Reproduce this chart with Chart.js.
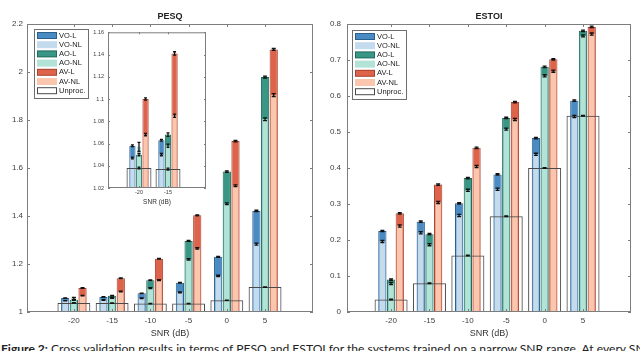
<!DOCTYPE html>
<html>
<head>
<meta charset="utf-8">
<script src="https://cdn.jsdelivr.net/npm/chart.js@4.4.1/dist/chart.umd.min.js"></script>
<style>
  html, body { margin: 0; padding: 0; background: #fff; width: 640px; height: 351px; overflow: hidden; }
  canvas { position: absolute; }
  #pesq { left: 0; top: 0; }
  #estoi { left: 320px; top: 0; }
  #inset { left: 80px; top: 25px; }
  #caption { position: absolute; left: 1px; top: 341px; font: 12.1px Lato, sans-serif; white-space: nowrap; color: #222; }
</style>
</head>
<body>
<canvas id="pesq" width="320" height="340"></canvas>
<canvas id="estoi" width="320" height="340"></canvas>
<canvas id="inset" width="135" height="185"></canvas>
<div id="caption"><b>Figure 2:</b> Cross validation results in terms of PESQ and ESTOI for the systems trained on a narrow SNR range. At every SNR</div>
<script>
// SNR categories and tick values
const snrLevels = [-20, -15, -10, -5, 0, 5];
const insetLevels = [-20, -15];
const seriesNames = ['VO-L', 'VO-NL', 'AO-L', 'AO-NL', 'AV-L', 'AV-NL', 'Unproc.'];
const pesqTicks = [1, 1.2, 1.4, 1.6, 1.8, 2, 2.2];
const insetTicks = [1.02, 1.04, 1.06, 1.08, 1.1, 1.12, 1.14, 1.16];
const estoiTicks = [0, 0.1, 0.2, 0.3, 0.4, 0.5, 0.6, 0.7, 0.8];

// PESQ
const pesqVOL    = [1.058, 1.063, 1.078, 1.122, 1.230, 1.421];
const pesqVONL   = [1.047, 1.050, 1.057, 1.082, 1.151, 1.283];
const pesqAOL    = [1.050, 1.068, 1.132, 1.296, 1.585, 1.979];
const pesqAONL   = [1.057, 1.058, 1.099, 1.219, 1.451, 1.803];
const pesqAVL    = [1.100, 1.141, 1.222, 1.403, 1.712, 2.094];
const pesqAVNL   = [1.068, 1.085, 1.133, 1.265, 1.526, 1.904];
const pesqUnproc = [1.038, 1.037, 1.035, 1.035, 1.049, 1.104];

const pesqErrVOL    = [0.0008, 0.0008, 0.001, 0.0015, 0.002, 0.003];
const pesqErrVONL   = [0.0008, 0.001, 0.0015, 0.002, 0.003, 0.004];
const pesqErrAOL    = [0.001, 0.0015, 0.0015, 0.002, 0.003, 0.004];
const pesqErrAONL   = [0.004, 0.0015, 0.002, 0.003, 0.004, 0.006];
const pesqErrAVL    = [0.001, 0.0015, 0.0015, 0.002, 0.003, 0.004];
const pesqErrAVNL   = [0.001, 0.0015, 0.002, 0.003, 0.004, 0.006];
const pesqErrUnproc = [0.0008, 0.0008, 0.0008, 0.0008, 0.0008, 0.0008];

// ESTOI
const estoiVOL    = [0.225, 0.251, 0.302, 0.382, 0.483, 0.587];
const estoiVONL   = [0.196, 0.220, 0.268, 0.341, 0.438, 0.543];
const estoiAOL    = [0.090, 0.216, 0.372, 0.539, 0.681, 0.781];
const estoiAONL   = [0.079, 0.187, 0.338, 0.508, 0.656, 0.767];
const estoiAVL    = [0.274, 0.354, 0.456, 0.583, 0.702, 0.792];
const estoiAVNL   = [0.239, 0.304, 0.404, 0.535, 0.669, 0.772];
const estoiUnproc = [0.035, 0.080, 0.157, 0.266, 0.400, 0.545];

const estoiErrVOL    = [0.002, 0.002, 0.002, 0.002, 0.002, 0.002];
const estoiErrVONL   = [0.003, 0.003, 0.003, 0.003, 0.003, 0.003];
const estoiErrAOL    = [0.002, 0.002, 0.002, 0.002, 0.002, 0.002];
const estoiErrAONL   = [0.003, 0.003, 0.003, 0.003, 0.003, 0.003];
const estoiErrAVL    = [0.002, 0.002, 0.002, 0.002, 0.002, 0.002];
const estoiErrAVNL   = [0.003, 0.003, 0.003, 0.003, 0.003, 0.003];
const estoiErrUnproc = [0.001, 0.001, 0.001, 0.001, 0.001, 0.001];

const FONT = "'Liberation Sans', Arial, sans-serif";
Chart.defaults.font.family = FONT;
Chart.defaults.color = '#404040';

// L and NL of one system share a group slot (same stack, x stacked, y not),
// NL is narrower and drawn over L; Unproc. is not grouped and spans the category
const seriesStyles = [
  { stack: 'VO', order: 3, fill: '#4a8bc4', line: '#2b5f8c', width: 1, bar: 0.95, grouped: true },
  { stack: 'VO', order: 2, fill: '#c4dbee', line: '#c4dbee', width: 0, bar: 0.64, grouped: true },
  { stack: 'AO', order: 3, fill: '#3b9785', line: '#1f6b5d', width: 1, bar: 0.95, grouped: true },
  { stack: 'AO', order: 2, fill: '#b3e3d6', line: '#b3e3d6', width: 0, bar: 0.64, grouped: true },
  { stack: 'AV', order: 3, fill: '#dd634a', line: '#a9412e', width: 1, bar: 0.95, grouped: true },
  { stack: 'AV', order: 2, fill: '#fac6ae', line: '#fac6ae', width: 0, bar: 0.64, grouped: true },
  { stack: 'UN', order: 1, fill: 'rgba(0,0,0,0)', line: '#4a4a4a', width: 1, bar: 0.86, grouped: false }
];

function buildDatasets(series, errors, levels) {
  return series.map((vals, i) => {
    const s = seriesStyles[i];
    return {
      label: seriesNames[i],
      data: levels.map((x, j) => ({ x: x, y: vals[j] })),
      errors: errors[i],
      stack: s.stack,
      grouped: s.grouped,
      order: s.order,
      backgroundColor: s.fill,
      borderColor: s.line,
      borderWidth: s.width,
      barPercentage: s.bar,
      categoryPercentage: s.grouped ? 0.68 : 1,
      clip: 0
    };
  });
}

// error bars on top of every bar
const errorBars = {
  id: 'errorBars',
  afterDatasetsDraw(chart, args, opts) {
    const ctx = chart.ctx, a = chart.chartArea, yScale = chart.scales.y;
    ctx.save();
    ctx.beginPath();
    ctx.rect(a.left, a.top, a.width, a.height);
    ctx.clip();
    ctx.strokeStyle = '#111';
    ctx.lineWidth = opts.width;
    chart.data.datasets.forEach((ds, di) => {
      chart.getDatasetMeta(di).data.forEach((bar, j) => {
        const v = ds.data[j].y, e = ds.errors[j];
        const y1 = yScale.getPixelForValue(v + e);
        const y2 = yScale.getPixelForValue(v - e);
        ctx.beginPath();
        ctx.moveTo(bar.x, y1); ctx.lineTo(bar.x, y2);
        ctx.moveTo(bar.x - opts.cap, y1); ctx.lineTo(bar.x + opts.cap, y1);
        ctx.moveTo(bar.x - opts.cap, y2); ctx.lineTo(bar.x + opts.cap, y2);
        ctx.stroke();
      });
    });
    ctx.restore();
  }
};

// MATLAB-like box with inward ticks, title and boxed legend
const frame = {
  id: 'frame',
  afterDraw(chart, args, opts) {
    const ctx = chart.ctx, a = chart.chartArea;
    const xs = chart.scales.x, ys = chart.scales.y;
    const t = opts.tick;
    ctx.save();
    ctx.strokeStyle = '#7d7d7d';
    ctx.lineWidth = 1;
    ctx.strokeRect(a.left + 0.5, a.top + 0.5, a.width - 1, a.height - 1);
    ctx.beginPath();
    xs.ticks.forEach(tk => {
      const px = Math.round(xs.getPixelForValue(tk.value)) + 0.5;
      ctx.moveTo(px, a.bottom); ctx.lineTo(px, a.bottom - t);
      ctx.moveTo(px, a.top); ctx.lineTo(px, a.top + t);
    });
    ys.ticks.forEach(tk => {
      const py = Math.round(ys.getPixelForValue(tk.value)) + 0.5;
      ctx.moveTo(a.left, py); ctx.lineTo(a.left + t, py);
      ctx.moveTo(a.right, py); ctx.lineTo(a.right - t, py);
    });
    ctx.stroke();

    if (opts.title) {
      ctx.fillStyle = '#222';
      ctx.font = 'bold 9px ' + FONT;
      ctx.textAlign = 'center';
      ctx.textBaseline = 'middle';
      ctx.fillText(opts.title, (a.left + a.right) / 2, a.top - 7);
    }

    if (opts.legend) {
      const bx = a.left + opts.legend.dx, by = a.top + opts.legend.dy;
      const bw = 54, bh = 69;
      ctx.fillStyle = '#fff';
      ctx.fillRect(bx, by, bw, bh);
      ctx.strokeStyle = '#6e6e6e';
      ctx.strokeRect(bx + 0.5, by + 0.5, bw, bh);
      ctx.font = '7.5px ' + FONT;
      ctx.textAlign = 'left';
      ctx.textBaseline = 'middle';
      chart.data.datasets.forEach((ds, i) => {
        const cy = by + 6.5 + i * 9.2;
        if (ds.grouped) {
          ctx.fillStyle = ds.borderColor;
          ctx.fillRect(bx + 3, cy - 3.5, 20, 7);
          ctx.fillStyle = ds.backgroundColor;
          ctx.fillRect(bx + 4, cy - 2.5, 18, 5);
        } else {
          ctx.fillStyle = '#fff';
          ctx.fillRect(bx + 3, cy - 3.5, 20, 7);
          ctx.strokeStyle = ds.borderColor;
          ctx.strokeRect(bx + 3.5, cy - 3, 19, 6);
        }
        ctx.fillStyle = '#222';
        ctx.fillText(ds.label, bx + 25, cy);
      });
    }
    ctx.restore();
  }
};

function makeChart(id, cfg) {
  return new Chart(document.getElementById(id), {
    type: 'bar',
    data: { datasets: buildDatasets(cfg.series, cfg.errors, cfg.levels) },
    options: {
      responsive: false,
      animation: false,
      events: [],
      layout: { padding: cfg.padding },
      scales: {
        x: {
          type: 'linear',
          min: cfg.xMin,
          max: cfg.xMax,
          offset: false,
          stacked: true,
          afterBuildTicks: s => { s.ticks = cfg.levels.map(v => ({ value: v })); },
          afterFit: s => { s.height = cfg.xHeight; },
          grid: { display: false, drawTicks: false },
          border: { display: false },
          ticks: { autoSkip: false, maxRotation: 0, padding: cfg.xPad, font: { size: cfg.tickSize }, callback: v => String(v) },
          title: { display: true, text: 'SNR (dB)', color: '#333', font: { size: cfg.titleSize }, padding: { top: 0, bottom: cfg.titlePad } }
        },
        y: {
          stacked: false,
          min: cfg.yTicks[0],
          max: cfg.yTicks[cfg.yTicks.length - 1],
          afterBuildTicks: s => { s.ticks = cfg.yTicks.map(v => ({ value: v })); },
          afterFit: s => { s.width = cfg.yWidth; },
          grid: { display: false, drawTicks: false },
          border: { display: false },
          ticks: { padding: cfg.yPad, font: { size: cfg.tickSize }, callback: v => String(+v.toFixed(2)) }
        }
      },
      plugins: {
        legend: { display: false },
        tooltip: { enabled: false },
        frame: { title: cfg.title, legend: cfg.legend, tick: cfg.tick },
        errorBars: { cap: cfg.cap, width: 1.3 }
      }
    },
    plugins: [errorBars, frame]
  });
}

makeChart('pesq', {
  title: 'PESQ',
  levels: snrLevels,
  series: [pesqVOL, pesqVONL, pesqAOL, pesqAONL, pesqAVL, pesqAVNL, pesqUnproc],
  errors: [pesqErrVOL, pesqErrVONL, pesqErrAOL, pesqErrAONL, pesqErrAVL, pesqErrAVNL, pesqErrUnproc],
  yTicks: pesqTicks,
  xMin: -26.13, xMax: 11.27,
  padding: { top: 24, right: 7, bottom: 0, left: 0 },
  yWidth: 27, yPad: 4, xHeight: 28, xPad: 4, titlePad: 1,
  tickSize: 8, titleSize: 9, tick: 3, cap: 2,
  legend: { dx: 7, dy: 5 }
});

makeChart('estoi', {
  title: 'ESTOI',
  levels: snrLevels,
  series: [estoiVOL, estoiVONL, estoiAOL, estoiAONL, estoiAVL, estoiAVNL, estoiUnproc],
  errors: [estoiErrVOL, estoiErrVONL, estoiErrAOL, estoiErrAONL, estoiErrAVL, estoiErrAVNL, estoiErrUnproc],
  yTicks: estoiTicks,
  xMin: -25.74, xMax: 11.25,
  padding: { top: 24, right: 9, bottom: 0, left: 0 },
  yWidth: 27, yPad: 6, xHeight: 28, xPad: 4, titlePad: 1,
  tickSize: 8, titleSize: 9, tick: 3, cap: 2,
  legend: { dx: 5, dy: 6 }
});

// zoomed inset of the two lowest SNRs
makeChart('inset', {
  title: null,
  levels: insetLevels,
  series: [pesqVOL, pesqVONL, pesqAOL, pesqAONL, pesqAVL, pesqAVNL, pesqUnproc],
  errors: [pesqErrVOL, pesqErrVONL, pesqErrAOL, pesqErrAONL, pesqErrAVL, pesqErrAVNL, pesqErrUnproc],
  yTicks: insetTicks,
  xMin: -25.34, xMax: -8.45,
  padding: { top: 6, right: 9, bottom: 0, left: 0 },
  yWidth: 28, yPad: 4, xHeight: 22, xPad: 1, titlePad: 4,
  tickSize: 5.5, titleSize: 6.5, tick: 2, cap: 1.5,
  legend: null
});
</script>
</body>
</html>
